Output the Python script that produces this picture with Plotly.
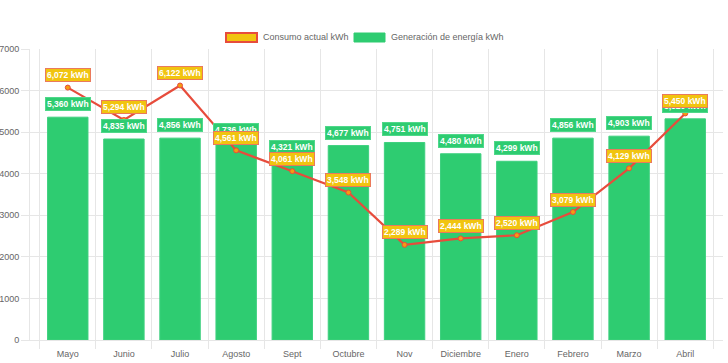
import plotly.graph_objects as go

months = ["Mayo", "Junio", "Julio", "Agosto", "Sept", "Octubre", "Nov",
          "Diciembre", "Enero", "Febrero", "Marzo", "Abril"]
consumo = [6072, 5294, 6122, 4561, 4061, 3548, 2289, 2444, 2520, 3079, 4129, 5450]
generacion = [5360, 4835, 4856, 4736, 4321, 4677, 4751, 4480, 4299, 4856, 4903, 5320]
legend_labels = ["Consumo actual kWh", "Generación de energía kWh"]

GREEN = "#2ecc71"
RED = "#e74c3c"
YELLOW = "#f1c40f"
GRID = "#e6e6e6"
FONT = "Liberation Sans, Arial, sans-serif"
W, H = 728, 363
ML, MR, MT, MB = 30, 5, 49, 23

fig = go.Figure()

fig.add_trace(go.Bar(x=months, y=generacion, name=legend_labels[1],
                     marker=dict(color=GREEN, line=dict(color="#3ed07f", width=1)),
                     hoverinfo="x+y"))
fig.add_trace(go.Scatter(x=months, y=consumo, mode="lines+markers",
                         name=legend_labels[0],
                         line=dict(color=RED, width=2.2),
                         marker=dict(size=5, color="#f39c12", line=dict(color=RED, width=1))))

anns = []
for m, v in zip(months, generacion):
    anns.append(dict(x=m, y=v, xref="x", yref="y", text=f"<b>{v:,} kWh</b>",
                     showarrow=False, yshift=13, bgcolor=GREEN,
                     bordercolor="#4fd88a", borderwidth=1, borderpad=1,
                     font=dict(color="white", size=8.5, family=FONT)))
for m, v in zip(months, consumo):
    anns.append(dict(x=m, y=v, xref="x", yref="y", text=f"<b>{v:,} kWh</b>",
                     showarrow=False, yshift=12.5, bgcolor=YELLOW,
                     bordercolor="#ea7a5c", borderwidth=1, borderpad=1,
                     font=dict(color="white", size=8.5, family=FONT)))

# custom legend (box swatches like the original); page pixel -> paper coords
pw = W - ML - MR
ph = H - MT - MB
def px_x(p):
    return (p - ML) / pw
def px_y(p):
    return (H - MB - p) / ph

shapes = [
    dict(type="rect", xref="paper", yref="paper",
         x0=px_x(226), x1=px_x(257), y0=px_y(42), y1=px_y(33),
         fillcolor=YELLOW, line=dict(color=RED, width=2)),
    dict(type="rect", xref="paper", yref="paper",
         x0=px_x(354), x1=px_x(385), y0=px_y(42), y1=px_y(33),
         fillcolor=GREEN, line=dict(color=GREEN, width=1)),
]
anns.append(dict(xref="paper", yref="paper", x=px_x(261), y=px_y(37.5),
                 xanchor="left", yanchor="middle", showarrow=False,
                 text=legend_labels[0], font=dict(size=9, color="#666", family=FONT)))
anns.append(dict(xref="paper", yref="paper", x=px_x(389), y=px_y(37.5),
                 xanchor="left", yanchor="middle", showarrow=False,
                 text=legend_labels[1], font=dict(size=9, color="#666", family=FONT)))

fig.update_layout(
    width=W, height=H,
    margin=dict(l=ML, r=MR, t=MT, b=MB, autoexpand=False),
    paper_bgcolor="white", plot_bgcolor="white",
    font=dict(family=FONT, size=9, color="#666"),
    bargap=0.28,
    annotations=anns,
    shapes=shapes,
    showlegend=False,
)
fig.update_xaxes(type="category", tickson="boundaries", showgrid=True, gridcolor=GRID,
                 ticks="outside", ticklen=8, tickcolor=GRID, showline=True,
                 linecolor=GRID, tickfont=dict(size=9, color="#666"), tickangle=0,
                 automargin=False, ticklabelstandoff=5)
fig.update_yaxes(range=[0, 7000], dtick=1000, showgrid=True, gridcolor=GRID,
                 ticks="outside", ticklen=8, tickcolor=GRID, showline=True,
                 linecolor=GRID, zeroline=False, tickfont=dict(size=9, color="#666"),
                 tickformat="d", automargin=False, ticklabelstandoff=0)

fig.write_html("out.html", config={"displayModeBar": False},
               post_script="document.body.style.margin='0';document.body.style.overflow='hidden';")
